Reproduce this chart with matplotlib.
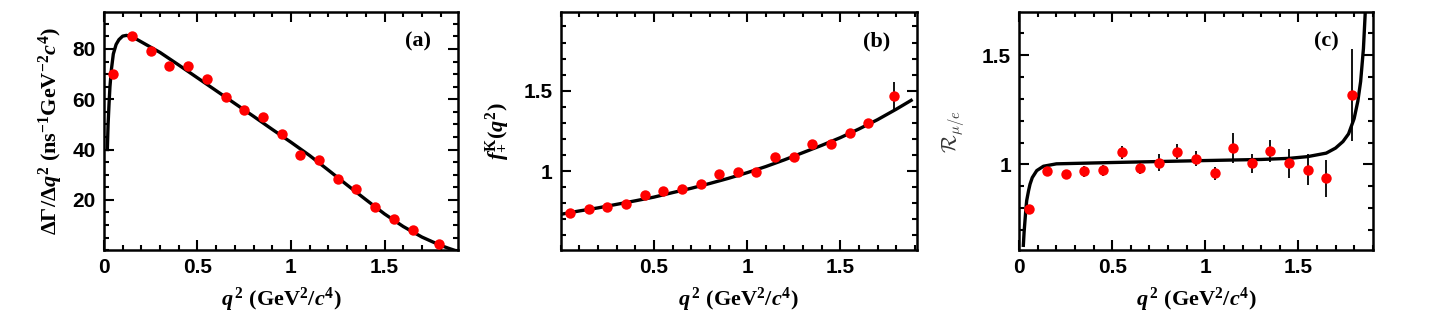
import numpy as np
import matplotlib
matplotlib.use("Agg")
import matplotlib.pyplot as plt
from matplotlib.ticker import MultipleLocator

plt.rcParams['font.family'] = ['Liberation Sans', 'DejaVu Sans']
plt.rcParams['mathtext.fontset'] = 'custom'
plt.rcParams['mathtext.rm'] = 'Liberation Serif:bold'
plt.rcParams['mathtext.bf'] = 'Liberation Serif:bold'
plt.rcParams['mathtext.it'] = 'Liberation Serif:italic:bold'

# bin centres (GeV^2/c^4)
q2 = [0.05, 0.15, 0.25, 0.35, 0.45, 0.55, 0.65, 0.75, 0.85, 0.95,
      1.05, 1.15, 1.25, 1.35, 1.45, 1.55, 1.65, 1.79]

# (a) differential decay rate
rate = [70.0, 85.2, 79.1, 73.3, 73.4, 67.9, 60.9, 55.6, 53.0, 46.2,
        37.9, 35.8, 28.1, 24.2, 17.0, 12.4, 7.9, 2.6]
rate_fit_x = [0.018, 0.022, 0.027, 0.032, 0.04, 0.05, 0.065, 0.08, 0.10, 0.12,
              0.15, 0.2, 0.3, 0.4, 0.5, 0.6, 0.7, 0.8, 0.9, 1.0, 1.1, 1.2,
              1.3, 1.4, 1.5, 1.6, 1.7, 1.76, 1.8, 1.84, 1.87]
rate_fit_y = [40.0, 50.0, 58.0, 65.0, 72.0, 78.0, 81.8, 83.7, 85.1, 85.4,
              84.9, 82.8, 78.6, 73.6, 68.5, 63.4, 58.3, 53.2, 48.0, 42.9, 37.6, 31.8,
              25.9, 20.1, 14.4, 9.4, 5.2, 3.2, 1.9, 0.8, 0.05]

# (b) form factor
ff = [0.737, 0.763, 0.778, 0.795, 0.851, 0.875, 0.890, 0.917, 0.979, 0.996,
      0.996, 1.085, 1.089, 1.168, 1.168, 1.238, 1.297, 1.469]
ff_err = [0.010, 0.010, 0.010, 0.010, 0.010, 0.012, 0.012, 0.012, 0.014, 0.015,
          0.016, 0.018, 0.020, 0.022, 0.024, 0.026, 0.030, 0.085]
ff_fit_x = [0.01, 0.1, 0.2, 0.3, 0.4, 0.5, 0.6, 0.7, 0.8, 0.9, 1.0, 1.1, 1.2,
            1.3, 1.4, 1.5, 1.6, 1.7, 1.8, 1.88]
ff_fit_y = [0.733, 0.752, 0.771, 0.793, 0.815, 0.838, 0.866, 0.893, 0.923, 0.955,
            0.99, 1.028, 1.07, 1.115, 1.16, 1.208, 1.262, 1.32, 1.385, 1.44]

# (c) mu/e ratio
ratio = [0.794, 0.969, 0.956, 0.969, 0.974, 1.055, 0.986, 1.009, 1.058, 1.026,
         0.960, 1.076, 1.005, 1.062, 1.005, 0.977, 0.936, 1.317]
ratio_err = [0.02, 0.02, 0.02, 0.025, 0.025, 0.03, 0.03, 0.04, 0.035, 0.035,
             0.03, 0.07, 0.045, 0.05, 0.065, 0.07, 0.085, 0.21]
ratio_fit_x = [0.022, 0.026, 0.031, 0.036, 0.04, 0.05, 0.058, 0.07, 0.094, 0.13,
               0.2, 0.5, 1.0, 1.3, 1.45, 1.55, 1.65, 1.7, 1.74, 1.77, 1.8, 1.82,
               1.835, 1.85, 1.86]
ratio_fit_y = [0.63, 0.69, 0.745, 0.80, 0.835, 0.88, 0.91, 0.94, 0.972, 0.992,
               1.003, 1.009, 1.018, 1.023, 1.028, 1.036, 1.052, 1.075, 1.105, 1.14,
               1.21, 1.29, 1.38, 1.53, 1.70]

fig = plt.figure(figsize=(14.38, 3.24), dpi=100)
ax1 = fig.add_axes([0.0723, 0.228, 0.2462, 0.735])
ax2 = fig.add_axes([0.3900, 0.228, 0.2475, 0.735])
ax3 = fig.add_axes([0.7088, 0.228, 0.2462, 0.735])

xlab = r'$q^{\,2}$ (GeV$^{2}$/$c^{4}$)'
serif = dict(family=['Liberation Serif', 'DejaVu Serif'], weight='bold', size=16)


def style(ax, ymaj, ymin, xticks, yticks):
    ax.xaxis.set_major_locator(MultipleLocator(0.5))
    ax.xaxis.set_minor_locator(MultipleLocator(0.1))
    ax.yaxis.set_major_locator(MultipleLocator(ymaj))
    ax.yaxis.set_minor_locator(MultipleLocator(ymin))
    ax.set_xticks(xticks)
    ax.set_xticklabels([f'{t:g}' for t in xticks])
    ax.set_yticks(yticks)
    ax.set_yticklabels([f'{t:g}' for t in yticks])
    ax.tick_params(which='both', direction='in', top=True, right=True, width=1.5)
    ax.tick_params(which='major', length=7, labelsize=15, pad=6)
    ax.tick_params(which='minor', length=3.5)
    for lab in ax.get_xticklabels() + ax.get_yticklabels():
        lab.set_fontweight('bold')
    for s in ax.spines.values():
        s.set_linewidth(1.8)
    ax.set_xlabel(xlab, fontdict=serif, labelpad=6)


dot = dict(fmt='o', color='red', ms=7.5, mec='none', ecolor='black',
           elinewidth=1.3, capsize=0, zorder=3)

# (a)
ax1.plot(rate_fit_x, rate_fit_y, color='black', lw=2.4, zorder=2)
ax1.plot(q2, rate, 'o', color='red', ms=7.5, mec='none', zorder=3)
ax1.set_xlim(0, 1.893)
ax1.set_ylim(0, 94.7)
style(ax1, 20, 5, [0, 0.5, 1, 1.5], [20, 40, 60, 80])
ax1.set_ylabel('ΔΓ/Δ' + r'$q^{2}$ (ns$^{-1}$GeV$^{-2}$$c^{4}$)', fontdict=serif, labelpad=5)
ax1.text(0.887, 0.875, '(a)', transform=ax1.transAxes, ha='center', va='center', **serif)

# (b)
ax2.plot(ff_fit_x, ff_fit_y, color='black', lw=2.4, zorder=2)
ax2.errorbar(q2, ff, yerr=ff_err, **dot)
ax2.set_xlim(0.0, 1.91)
ax2.set_ylim(0.508, 1.99)
style(ax2, 0.5, 0.1, [0.5, 1, 1.5], [1, 1.5])
ax2.set_ylabel(r'$f_{+}^{\mathrm{K}}(q^{2})$', fontdict=serif, labelpad=8)
ax2.text(0.886, 0.875, '(b)', transform=ax2.transAxes, ha='center', va='center', **serif)

# (c)
ax3.plot(ratio_fit_x, ratio_fit_y, color='black', lw=2.4, zorder=2)
ax3.errorbar(q2, ratio, yerr=ratio_err, **dot)
ax3.set_xlim(0, 1.903)
ax3.set_ylim(0.608, 1.698)
style(ax3, 0.5, 0.1, [0, 0.5, 1, 1.5], [1, 1.5])
ax3.set_ylabel(r'$\mathcal{R}_{\mu/e}$', fontsize=15, math_fontfamily='cm', color='#333333', labelpad=10)
ax3.text(0.868, 0.875, '(c)', transform=ax3.transAxes, ha='center', va='center', **serif)

fig.savefig('out.png', dpi=100)
